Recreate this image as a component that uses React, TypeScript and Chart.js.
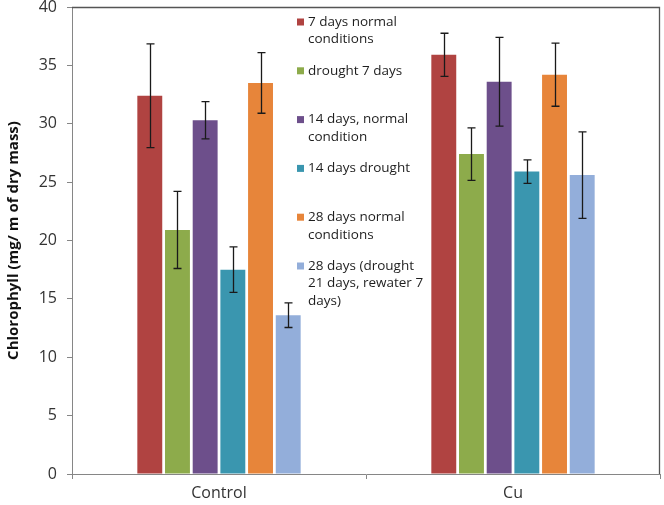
import React, { useEffect, useRef } from "react";
import { Chart, registerables } from "chart.js";

Chart.register(...registerables);

const categories = ["Control", "Cu"];
const seriesLabels: string[][] = [
  ["7 days normal", "conditions"],
  ["drought 7 days"],
  ["14 days, normal", "condition"],
  ["14 days drought"],
  ["28 days normal", "conditions"],
  ["28 days (drought", "21 days, rewater 7", "days)"],
];
const seriesColors = ["#B04341", "#8DAB4B", "#6D4F8B", "#3A96AF", "#E7853A", "#93AEDA"];
const controlValues = [32.4, 20.9, 30.3, 17.5, 33.5, 13.6];
const cuValues = [35.9, 27.4, 33.6, 25.9, 34.2, 25.6];
const controlErrors = [4.45, 3.3, 1.6, 1.95, 2.6, 1.05];
const cuErrors = [1.85, 2.25, 3.8, 1.0, 2.7, 3.7];
const yTicks = [0, 5, 10, 15, 20, 25, 30, 35, 40];
const yTitle = "Chlorophyll (mg/ m of dry mass)";

const FONT = "'Open Sans', 'DejaVu Sans', sans-serif";

export default function App() {
  const ref = useRef<HTMLCanvasElement | null>(null);

  useEffect(() => {
    if (!ref.current) return;
    const errors = seriesLabels.map((_, i) => [controlErrors[i], cuErrors[i]]);

    const errorBarPlugin = {
      id: "errorBars",
      afterDatasetsDraw(chart: any) {
        const ctx = chart.ctx;
        const y = chart.scales.y;
        ctx.save();
        ctx.strokeStyle = "#1a1a1a";
        ctx.lineWidth = 1.3;
        chart.data.datasets.forEach((ds: any, i: number) => {
          const meta = chart.getDatasetMeta(i);
          meta.data.forEach((bar: any, j: number) => {
            const v = ds.data[j];
            const e = errors[i][j];
            const yHi = y.getPixelForValue(v + e);
            const yLo = y.getPixelForValue(v - e);
            const x = Math.round(bar.x) + 0.5;
            ctx.beginPath();
            ctx.moveTo(x, yHi);
            ctx.lineTo(x, yLo);
            ctx.moveTo(x - 4, yHi);
            ctx.lineTo(x + 4, yHi);
            ctx.moveTo(x - 4, yLo);
            ctx.lineTo(x + 4, yLo);
            ctx.stroke();
          });
        });
        ctx.restore();
      },
    };

    const framePlugin = {
      id: "frame",
      afterDraw(chart: any) {
        const { ctx, chartArea } = chart;
        ctx.save();
        ctx.strokeStyle = "#555555";
        ctx.lineWidth = 1.3;
        ctx.beginPath();
        ctx.moveTo(chartArea.left, chartArea.top + 0.5);
        ctx.lineTo(chartArea.right - 0.5, chartArea.top + 0.5);
        ctx.lineTo(chartArea.right - 0.5, chartArea.bottom);
        ctx.stroke();
        ctx.restore();
      },
    };

    const legendPlugin = {
      id: "customLegend",
      afterDraw(chart: any) {
        const ctx = chart.ctx;
        ctx.save();
        ctx.font = `13.5px ${FONT}`;
        ctx.textBaseline = "middle";
        ctx.textAlign = "left";
        const sqX = 297;
        const textX = 308;
        const startY = 22;
        const itemGap = 48.8;
        const lineH = 17.5;
        chart.data.datasets.forEach((ds: any, i: number) => {
          const y0 = startY + itemGap * i;
          ctx.fillStyle = ds.backgroundColor;
          ctx.fillRect(sqX, y0 - 3.5, 7, 7);
          ctx.fillStyle = "#1e1e1e";
          seriesLabels[i].forEach((line, k) => {
            ctx.fillText(line, textX, y0 + k * lineH);
          });
        });
        ctx.restore();
      },
    };

    const chart = new Chart(ref.current, {
      type: "bar",
      data: {
        labels: categories,
        datasets: seriesLabels.map((lines, i) => ({
          label: lines.join(" "),
          data: [controlValues[i], cuValues[i]],
          backgroundColor: seriesColors[i],
          borderWidth: 0,
          categoryPercentage: 0.565,
          barPercentage: 0.9,
        })),
      },
      options: {
        animation: false,
        responsive: true,
        maintainAspectRatio: false,
        layout: { padding: { top: 7, right: 4, bottom: 0, left: 0 } },
        plugins: {
          legend: { display: false },
          tooltip: { enabled: false },
        },
        scales: {
          x: {
            grid: {
              offset: true,
              drawOnChartArea: false,
              drawTicks: true,
              tickLength: 5,
              color: "#868686",
            },
            border: { color: "#868686", width: 1 },
            ticks: {
              color: "#333333",
              font: { family: FONT, size: 16 },
              padding: 5,
            },
            afterFit: (s: any) => {
              s.height = 31;
              s.paddingLeft = 0;
              s.paddingRight = 0;
            },
          },
          y: {
            min: 0,
            max: 40,
            afterBuildTicks: (s: any) => {
              s.ticks = yTicks.map((v) => ({ value: v }));
            },
            grid: {
              drawOnChartArea: false,
              drawTicks: true,
              tickLength: 5,
              color: "#868686",
            },
            border: { color: "#868686", width: 1 },
            ticks: {
              color: "#333333",
              font: { family: FONT, size: 16 },
              padding: 10,
            },
            title: {
              display: true,
              text: yTitle,
              color: "#111111",
              font: { family: FONT, size: 15, weight: "bold" },
              padding: { top: 5, bottom: 0 },
            },
            afterFit: (s: any) => {
              s.width = 72;
              s.paddingTop = 0;
              s.paddingBottom = 0;
            },
          },
        },
      },
      plugins: [errorBarPlugin, framePlugin, legendPlugin],
    });

    return () => chart.destroy();
  }, []);

  return (
    <div style={{ position: "absolute", left: 0, top: 0, width: 664, height: 505, background: "#ffffff" }}>
      <canvas ref={ref} />
    </div>
  );
}
